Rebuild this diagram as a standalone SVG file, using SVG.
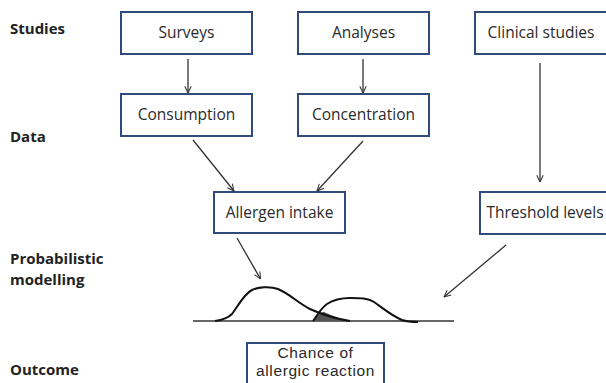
<svg xmlns="http://www.w3.org/2000/svg" width="606" height="383" viewBox="0 0 606 383">
<defs>
<marker id="ah" viewBox="0 0 10 10" refX="9.5" refY="5" markerWidth="8" markerHeight="8" markerUnits="userSpaceOnUse" orient="auto">
<path d="M1,1 L9.5,5 L1,9" fill="none" stroke="#333" stroke-width="1.3"/>
</marker>
<style>
.box{fill:#fff;stroke:#2f4b7c;stroke-width:2}
.t{font-family:"Open Sans","Liberation Sans",sans-serif;font-size:15.5px;fill:#2a2a2a;text-anchor:middle}
.t2{font-family:"Liberation Sans",sans-serif;font-size:15.5px;letter-spacing:0.6px}
.lab{font-family:"Open Sans","Liberation Sans",sans-serif;font-size:15px;font-weight:bold;fill:#222}
.c{fill:none;stroke:#333;stroke-width:1.3;marker-end:url(#ah)}
.curve{fill:none;stroke:#111;stroke-width:2}
</style>
</defs>
<rect width="606" height="383" fill="#fff"/>
<g id="labels">
<text class="lab" x="10" y="34">Studies</text>
<text class="lab" x="10" y="142">Data</text>
<text class="lab" x="10" y="264">Probabilistic</text>
<text class="lab" x="10" y="285">modelling</text>
<text class="lab" x="10" y="375">Outcome</text>
</g>
<g id="surveys"><rect class="box" x="121" y="12" width="131" height="42"/><text class="t" x="186.5" y="38">Surveys</text></g>
<g id="analyses"><rect class="box" x="298" y="12" width="131" height="42"/><text class="t" x="363.5" y="38">Analyses</text></g>
<g id="clinical"><rect class="box" x="475" y="12" width="136" height="42"/><text class="t" x="541" y="38">Clinical studies</text></g>
<g id="consumption"><rect class="box" x="121" y="94" width="131" height="42"/><text class="t" x="186.5" y="120">Consumption</text></g>
<g id="concentration"><rect class="box" x="298" y="94" width="131" height="42"/><text class="t" x="363.5" y="120">Concentration</text></g>
<g id="allergen"><rect class="box" x="214" y="192" width="131" height="41"/><text class="t" x="279.5" y="218">Allergen intake</text></g>
<g id="threshold"><rect class="box" x="480" y="192" width="135" height="42"/><text class="t" x="545" y="218">Threshold levels</text></g>
<g id="chance"><rect class="box" x="247" y="343" width="137" height="46"/><text class="t t2" x="315.5" y="358">Chance of</text><text class="t t2" x="315.5" y="375.5">allergic reaction</text></g>
<g id="connectors">
<line class="c" x1="188" y1="59" x2="188" y2="93"/>
<line class="c" x1="363" y1="59" x2="363" y2="93"/>
<line class="c" x1="540" y1="63" x2="540" y2="182"/>
<line class="c" x1="193" y1="140" x2="234" y2="191"/>
<line class="c" x1="363" y1="141" x2="317" y2="191"/>
<line class="c" x1="237" y1="238" x2="260.5" y2="279"/>
<line class="c" x1="506" y1="245" x2="444" y2="297"/>
</g>
<g id="distributions">
<line x1="193" y1="321" x2="454" y2="321" stroke="#333" stroke-width="1.3"/>
<path d="M313,321 L317,316 L321,312.5 L324,312 L332,315.5 L341,319 L350,321 Z" fill="#555"/>
<path class="curve" d="M215,321 C222,320 228,318 232,314 C238,306 244,294 252,290 C258,287 270,286 278,289 C290,294 298,303 310,309 C325,316 338,319 350,321"/>
<path class="curve" d="M313,321 C317,316 320,309 327,304 C333,300 340,298 350,298 C360,298 368,298 374,302 C384,309 392,316 402,320 C408,322 414,322 418,322"/>
</g>
</svg>
